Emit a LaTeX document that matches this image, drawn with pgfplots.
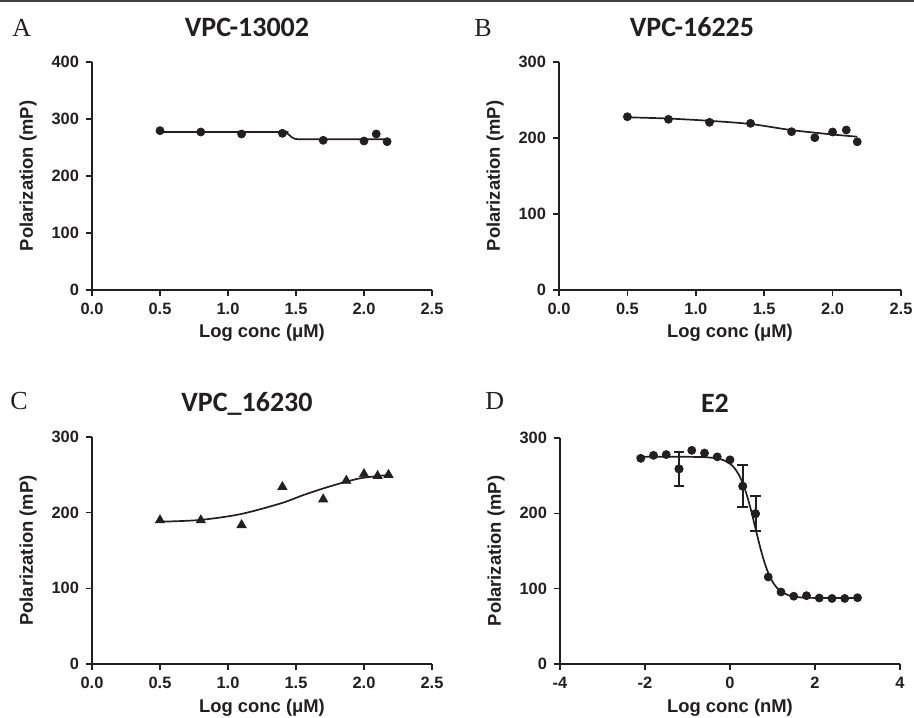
\documentclass[border=0pt]{standalone}
\usepackage{fontspec}
\setmainfont{Liberation Sans}
\newfontfamily\lettfont{Liberation Serif}
\newfontfamily\titlefont{Carlito}
\usepackage{pgfplots}
\pgfplotsset{compat=1.18}
\definecolor{ink}{RGB}{35,31,32}

\pgfplotsset{
  panel/.style={
    scale only axis,
    axis lines=left,
    axis line style={-, line width=0.8pt, draw=ink},
    tick align=outside,
    major tick length=3pt,
    tick style={line width=0.8pt, draw=ink},
    ticklabel style={font=\fontsize{8.2}{9}\selectfont\bfseries, text=ink},
    /pgf/number format/assume math mode=true,
    label style={font=\fontsize{9.2}{10}\selectfont\bfseries, text=ink},
    ylabel style={at={([xshift=-32pt]axis description cs:0,0.5)}, anchor=center},
    xlabel style={at={([yshift=-24pt]axis description cs:0.5,0)}, anchor=base},
    ylabel={Polarization (mP)},
    ymin=0,
    clip=false,
    every axis title shift=0pt,
  },
  conc/.style={
    xmin=0, xmax=2.5,
    xtick={0,0.5,1,1.5,2,2.5},
    xticklabels={0.0,0.5,1.0,1.5,2.0,2.5},
    xlabel={Log conc (μM)},
  },
  ttl/.style 2 args={
    title={#1},
    title style={at={([xshift=#2, yshift=12.5pt]axis description cs:0.5,1)}, anchor=base,
      font=\titlefont\fontsize{14}{16}\selectfont\bfseries, text=ink},
  },
  dots/.style={only marks, mark=*, mark size=2pt, color=ink},
  fit/.style={no marks, line width=0.85pt, color=ink},
}

\begin{document}
\begin{tikzpicture}
\useasboundingbox (0,0) rectangle (457pt,358.5pt);
\draw[line width=1pt, draw=ink!85] (0,358pt) -- (457pt,358pt);

% panel letters
\node[anchor=base west, inner sep=0pt, font=\lettfont\fontsize{13}{15}\selectfont, text=ink] at (6pt,340pt) {A};
\node[anchor=base west, inner sep=0pt, font=\lettfont\fontsize{13}{15}\selectfont, text=ink] at (237pt,340pt) {B};
\node[anchor=base west, inner sep=0pt, font=\lettfont\fontsize{13}{15}\selectfont, text=ink] at (5pt,153.5pt) {C};
\node[anchor=base west, inner sep=0pt, font=\lettfont\fontsize{13}{15}\selectfont, text=ink] at (242.5pt,153.5pt) {D};

% A
\begin{axis}[panel, conc, ttl={VPC-13002}{-7.5pt},
  at={(46pt,213.5pt)}, anchor=south west, width=170pt, height=114pt,
  ymax=400, ytick={0,100,200,300,400}]
\addplot[fit, smooth] coordinates {(0.5,277.2) (1.38,277.2) (1.42,276.2) (1.45,272) (1.47,267.8) (1.49,265.4) (1.52,264.5) (1.6,264.4) (2.18,264.4)};
\addplot[dots] coordinates {(0.5,279.5) (0.8,277.2) (1.1,273.7) (1.4,274.9) (1.7,262.6) (2.0,261.4) (2.09,273.7) (2.17,260.2)};
\end{axis}

% B
\begin{axis}[panel, conc, ttl={VPC-16225}{-19pt},
  at={(279.5pt,213.5pt)}, anchor=south west, width=171pt, height=114pt,
  ymax=300, ytick={0,100,200,300}]
\addplot[fit, smooth] coordinates {(0.5,227.2) (0.8,225.6) (1.1,222.6) (1.4,218.4) (1.7,210.4) (2.0,204.6) (2.18,201.7)};
\addplot[dots] coordinates {(0.5,228) (0.8,224.6) (1.1,220.6) (1.4,219.3) (1.7,208.3) (1.87,200.4) (2.0,207.9) (2.1,210.5) (2.18,195)};
\end{axis}

% C
\begin{axis}[panel, conc, ttl={VPC\_16230}{-7.5pt},
  at={(46pt,26.5pt)}, anchor=south west, width=170pt, height=113.5pt,
  ymax=300, ytick={0,100,200,300}]
\addplot[fit, smooth] coordinates {(0.49,188) (0.79,190.3) (1.09,198) (1.39,212.4) (1.55,223) (1.70,232) (1.87,241) (1.99,246) (2.18,249.8)};
\addplot[only marks, mark=triangle*, mark size=2.6pt, color=ink] coordinates {(0.5,190) (0.8,190) (1.1,183.7) (1.4,234) (1.7,217.6) (1.87,242.3) (2.0,251) (2.1,248.5) (2.18,250)};
\end{axis}

% D
\begin{axis}[panel, ttl={E2}{-7.5pt},
  at={(280pt,26.5pt)}, anchor=south west, width=170pt, height=113pt,
  xmin=-4, xmax=4, xtick={-4,-2,0,2,4}, xticklabels={-4,-2,0,2,4},
  xlabel={Log conc (nM)},
  ymax=300, ytick={0,100,200,300}]
\addplot[fit, smooth] coordinates {(-2.2,275) (-1,275) (-0.5,274.2) (-0.2,271.5) (0,265.8) (0.1,260.4) (0.2,252) (0.3,239.9) (0.4,223.5) (0.5,202.9) (0.6,179.9) (0.7,157) (0.8,136.8) (0.9,120.9) (1.0,109.3) (1.1,101.4) (1.2,96.2) (1.4,90.8) (1.6,88.7) (2.0,87.7) (3.0,87.5)};
\addplot[dots, error bars/.cd, y dir=both, y explicit,
  error bar style={line width=1pt, draw=ink},
  error mark options={rotate=90, mark size=2.7pt, line width=1pt, draw=ink}]
  coordinates {(-1.2,259) +- (0,23) (0.3,236) +- (0,27.5) (0.6,199.5) +- (0,23)};
\addplot[dots] coordinates {(-2.1,273) (-1.8,277) (-1.5,278) (-1.2,259) (-0.9,283.6) (-0.6,280) (-0.3,275) (0,271) (0.3,236) (0.6,199.5) (0.9,115.5) (1.2,95.6) (1.5,90) (1.8,90.7) (2.1,87.6) (2.4,87) (2.7,87) (3.0,88)};
\end{axis}
\end{tikzpicture}
\end{document}
